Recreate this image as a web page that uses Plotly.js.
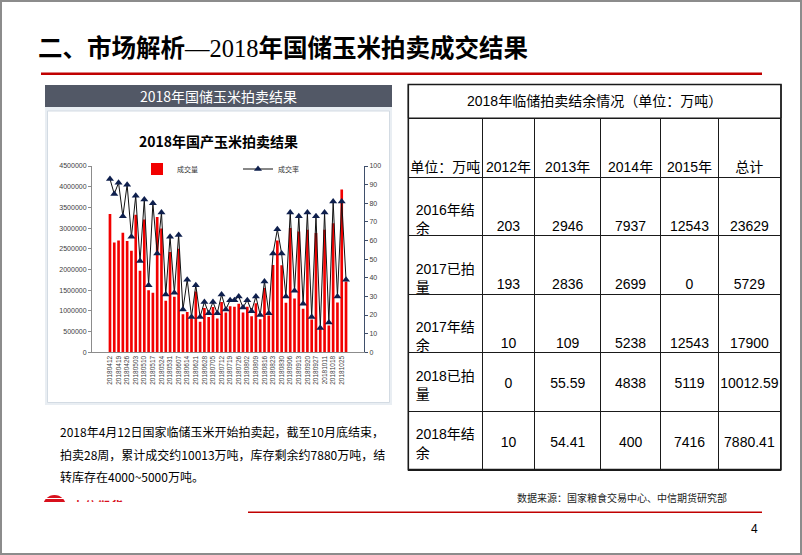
<!DOCTYPE html>
<html><head><meta charset="utf-8">
<script src="https://cdn.plot.ly/plotly-3.0.1.min.js"></script>
<style>
body{margin:0;background:#fff;}
#wrap{position:relative;width:802px;height:555px;overflow:hidden;background:#fff;}
#chart{position:absolute;left:0;top:0;width:802px;height:555px;}
#frame{position:absolute;left:0;top:0;width:802px;height:555px;box-sizing:border-box;border:2px solid #8c8c8c;pointer-events:none;}
#logo{position:absolute;left:43px;top:495px;width:80px;height:7px;overflow:hidden;}
#logo .c{position:absolute;left:0;top:0;width:23px;height:23px;border-radius:50%;background:repeating-linear-gradient(180deg,#d8101c 0 3px,#fff 3px 4px);}
#logo .t{position:absolute;left:29px;top:2px;font:bold 12px 'Noto Sans CJK SC';color:#d8101c;letter-spacing:1px;white-space:nowrap;}
</style></head><body>
<div id="wrap"><div id="chart"></div>
<div id="logo"><div class="c"></div><div class="t">中信期货</div></div>
<div id="frame"></div></div>
<script>
// ---- chart data ----
const weekLabels = ['20180412','20180419','20180426','20180503','20180510','20180517','20180524','20180531','20180607','20180614','20180621','20180628','20180705','20180712','20180719','20180726','20180802','20180809','20180816','20180823','20180830','20180906','20180913','20180920','20180927','20181011','20181018','20181025'];
const auctionDates = ['20180412','20180413','20180419','20180420','20180426','20180427','20180503','20180504','20180510','20180511','20180517','20180518','20180524','20180525','20180531','20180601','20180607','20180608','20180614','20180615','20180621','20180622','20180628','20180629','20180705','20180706','20180712','20180713','20180719','20180720','20180726','20180727','20180802','20180803','20180809','20180810','20180816','20180817','20180823','20180824','20180830','20180831','20180906','20180907','20180913','20180914','20180920','20180921','20180927','20180928','20181011','20181012','20181018','20181019','20181025','20181026'];
const volume = [3340000,2650000,2700000,2890000,2690000,2450000,3320000,1970000,3210000,1500000,1440000,3270000,2990000,1245000,2420000,1340000,2500000,920000,975000,820000,1470000,735000,1070000,855000,1095000,815000,1215000,960000,1110000,1100000,1175000,960000,1100000,870000,1185000,800000,1555000,890000,2110000,2700000,2100000,1195000,3000000,1300000,2920000,1050000,2960000,790000,2880000,585000,2960000,650000,3120000,1200000,3935000,1710000];
const rate = [93,85,91,73,90,62,84,49,82,36,80,53,75,31,62,32,63,23,39,19,36,19,27,21,27,21,31,23,28,28,30,24,28,22,30,20,38,21,53,66,53,30,75,33,73,26,75,19,73,13,75,16,81,30,81,39];
const leftTicks = [0,500000,1000000,1500000,2000000,2500000,3000000,3500000,4000000,4500000];
const rightTicks = [0,10,20,30,40,50,60,70,80,90,100];

// ---- table data ----
const tableTitle = '2018年临储拍卖结余情况（单位：万吨）';
const colHeaders = ['单位：万吨','2012年','2013年','2014年','2015年','总计'];
const rowLabels = ['2016年结余','2017已拍量','2017年结余','2018已拍量','2018年结余'];
const v2012 = [203,193,10,0,10];
const v2013 = [2946,2836,109,55.59,54.41];
const v2014 = [7937,2699,5238,4838,400];
const v2015 = [12543,0,12543,5119,7416];
const vTotal = [23629,5729,17900,10012.59,7880.41];
const bottomRows = 3; // first rows bottom aligned, the rest centred

// ---- helpers (page px -> paper) ----
const W = 802, H = 555;
const X = p => p / W;
const Y = p => 1 - p / H;

const FONT = 'Liberation Sans, Noto Sans CJK SC, sans-serif';
const CJK = 'Noto Sans CJK SC, sans-serif';
const split = s => s.slice(0, -1) + '<br>' + s.slice(-1);
const numCols = [v2012, v2013, v2014, v2015, vTotal];

const colW = [74, 52.7, 66, 60, 58, 62];
const tX = [X(408.3), X(781)];
const tTop = 118, tBot = 470;
const headH = 59, cellH = 58.6;
const blank = () => rowLabels.map(() => '');
const tFont = {family: FONT, size: 14, color: '#000'};
const clear = 'rgba(0,0,0,0)';

// grid table (cells drawn, text placed by overlays)
const grid = {
  type: 'table',
  domain: {x: tX, y: [Y(tBot + 4), Y(tTop)]},
  columnwidth: colW,
  header: {values: colHeaders.map(() => ''), height: headH,
    line: {color: '#1a1a1a', width: 1}, fill: {color: '#fff'}, font: tFont},
  cells: {values: [blank()].concat(numCols.map(blank)), height: cellH,
    line: {color: '#1a1a1a', width: 1}, fill: {color: '#fff'}, font: tFont}
};
// text overlays: same geometry, shifted down to set the vertical alignment
const overlay = (shift, headerVals, cols) => ({
  type: 'table',
  domain: {x: tX, y: [Y(tBot + shift + 6), Y(tTop + shift)]},
  columnwidth: colW,
  header: {values: headerVals, height: headH, align: 'center',
    line: {color: clear, width: 0}, fill: {color: clear}, font: tFont},
  cells: {values: cols, height: cellH, align: 'center',
    line: {color: clear, width: 0}, fill: {color: clear}, font: tFont}
});
const t50 = overlay(35, colHeaders,
  [blank()].concat(numCols.map(col => col.map((v, i) => i < bottomRows ? String(v) : ''))));
const t32 = overlay(17, colHeaders.map(() => ''),
  [rowLabels.map((s, i) => i < bottomRows ? split(s) : '')]
    .concat(numCols.map(col => col.map((v, i) => i < bottomRows ? '' : String(v)))));
const t22 = overlay(7, colHeaders.map(() => ''),
  [rowLabels.map((s, i) => i < bottomRows ? '' : split(s))].concat(numCols.map(blank)));

const bars = {
  type: 'bar', x: auctionDates, y: volume, name: '成交量',
  marker: {color: '#f20000', line: {width: 0}},
  yaxis: 'y', xaxis: 'x'
};
const line = {
  type: 'scatter', mode: 'lines+markers', x: auctionDates, y: rate, name: '成交率',
  line: {color: '#111', width: 1},
  marker: {symbol: 'triangle-up', size: 7, color: '#0e1f4d'},
  yaxis: 'y2', xaxis: 'x'
};

const rect = (x0, y0, x1, y1, fill, lineColor, lw, layer) => ({
  type: 'rect', xref: 'paper', yref: 'paper', layer: layer || 'below',
  x0: X(x0), x1: X(x1), y0: Y(y1), y1: Y(y0),
  fillcolor: fill, line: {color: lineColor || clear, width: lw || 0}
});

const shapes = [
  rect(41, 72.5, 762, 75, '#c00000'),
  rect(45, 85, 392, 107, '#525866'),
  rect(45, 107, 392, 405, '#e9eef3'),
  rect(47.5, 111, 389.5, 402.5, '#ffffff', '#d3dbe3', 1),
  rect(408.3, 84.5, 781, 118, '#ffffff', '#1a1a1a', 1),
  rect(408.3, 84.5, 781, 469.6, clear, '#1a1a1a', 1.6, 'above'),
  rect(248, 511.5, 762, 513, '#c00000')
];

const ann = (x, y, text, size, opts) => Object.assign({
  xref: 'paper', yref: 'paper', x: X(x), y: Y(y), text: text, showarrow: false,
  xanchor: 'center', yanchor: 'middle', font: {family: CJK, size: size, color: '#000'}
}, opts || {});

const annotations = [
  ann(36, 46, '二、市场解析<span style="font-family:Liberation Serif;font-weight:normal">—2018</span>年国储玉米拍卖成交结果', 24.5,
      {xanchor: 'left', font: {family: CJK, size: 24.5, color: '#000', weight: 'bold'}}),
  ann(218.5, 96, '2018年国储玉米拍卖结果', 14, {font: {family: CJK, size: 14, color: '#fff'}}),
  ann(218, 141, '2018年国产玉米拍卖结果', 14, {font: {family: CJK, size: 14, color: '#000', weight: 'bold'}}),
  ann(594.7, 101, tableTitle, 14, {font: tFont}),
  ann(58, 431, '2018年4月12日国家临储玉米开始拍卖起，截至10月底结束，', 12, {xanchor: 'left'}),
  ann(58, 454, '拍卖28周，累计成交约10013万吨，库存剩余约7880万吨，结', 12, {xanchor: 'left'}),
  ann(58, 476, '转库存在4000~5000万吨。', 12, {xanchor: 'left'}),
  ann(515, 497, '数据来源：国家粮食交易中心、中信期货研究部', 10, {xanchor: 'left', font: {family: CJK, size: 10, color: '#222'}}),
  ann(754, 529, '4', 12, {font: {family: FONT, size: 12, color: '#000'}})
];

const tickFont = {family: FONT, size: 7, color: '#404040'};
const layout = {
  width: W, height: H, margin: {l: 0, r: 0, t: 0, b: 0},
  paper_bgcolor: clear, plot_bgcolor: clear,
  showlegend: true, bargap: 0.38,
  legend: {orientation: 'h', x: X(137), y: Y(169), xanchor: 'left', yanchor: 'middle',
    font: {family: CJK, size: 7, color: '#333'}, bgcolor: clear,
    entrywidth: 56, entrywidthmode: 'pixels', itemwidth: 30, tracegroupgap: 0},
  xaxis: {domain: [X(92), X(364)], anchor: 'y', type: 'category',
    tickmode: 'array', tickvals: weekLabels, ticktext: weekLabels, tickangle: -90,
    tickfont: {family: FONT, size: 6.5, color: '#404040'},
    showline: true, linecolor: '#8c8c8c', linewidth: 1, ticks: '', showgrid: false, zeroline: false,
    fixedrange: true},
  yaxis: {domain: [Y(352.3), Y(166)], range: [0, 4500000], tickmode: 'array', tickvals: leftTicks,
    tickformat: 'd', tickfont: tickFont, showline: true, linecolor: '#8c8c8c', linewidth: 1,
    ticks: 'outside', ticklen: 3, tickcolor: '#8c8c8c', showgrid: false, zeroline: false, fixedrange: true},
  yaxis2: {overlaying: 'y', side: 'right', anchor: 'x', range: [0, 100], tickmode: 'array', tickvals: rightTicks,
    tickfont: tickFont, showline: true, linecolor: '#3f4f6b', linewidth: 1,
    ticks: 'outside', ticklen: 3, tickcolor: '#3f4f6b', showgrid: false, zeroline: false, fixedrange: true},
  shapes: shapes, annotations: annotations
};

Plotly.newPlot('chart', [grid, t50, t32, t22, bars, line], layout, {displayModeBar: false, staticPlot: true});
</script></body></html>
